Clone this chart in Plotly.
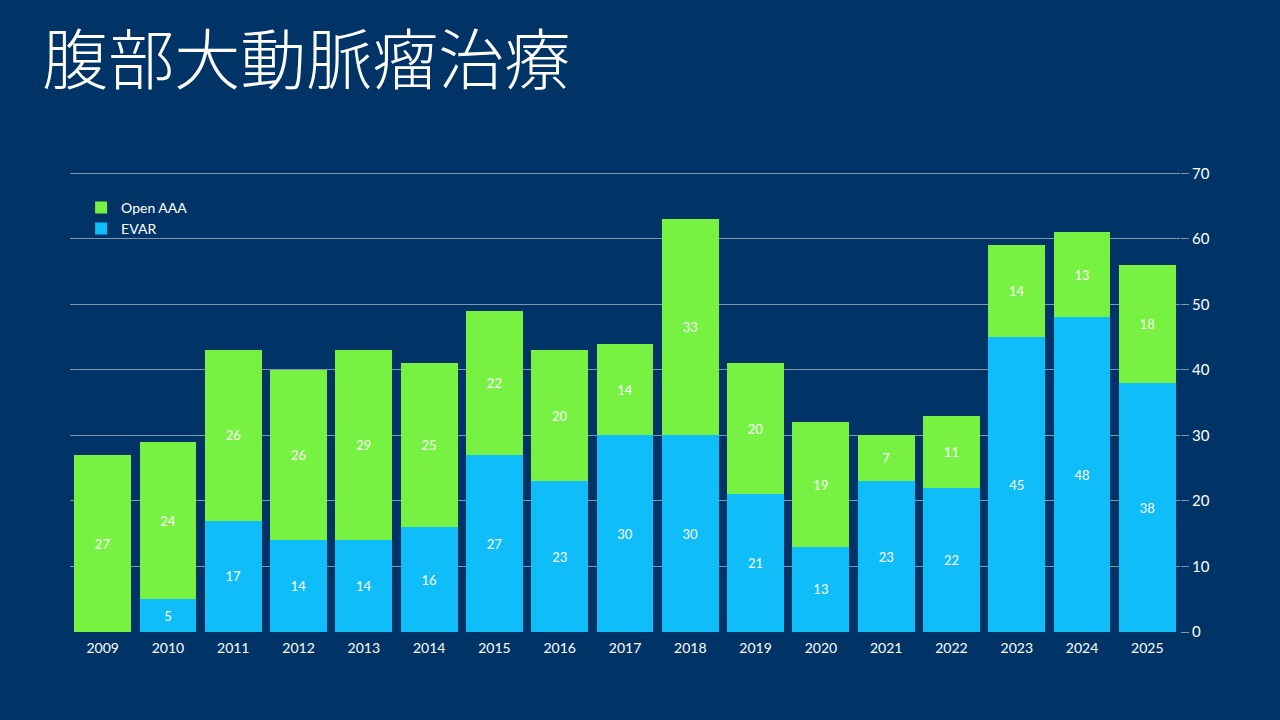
import plotly.graph_objects as go

years = ['2009', '2010', '2011', '2012', '2013', '2014', '2015', '2016', '2017',
         '2018', '2019', '2020', '2021', '2022', '2023', '2024', '2025']
evar = [0, 5, 17, 14, 14, 16, 27, 23, 30, 30, 21, 13, 23, 22, 45, 48, 38]
open_aaa = [27, 24, 26, 26, 29, 25, 22, 20, 14, 33, 20, 19, 7, 11, 14, 13, 18]

bg = '#003466'
font_main = 'Lato, Noto Sans, sans-serif'

fig = go.Figure()
fig.add_trace(go.Bar(
    x=years, y=evar, name='EVAR',
    marker=dict(color='#0fbdf9', line=dict(width=0)),
    text=[str(v) if v else '' for v in evar],
    textposition='inside', insidetextanchor='middle',
    textfont=dict(color='white', size=13, family=font_main),
))
fig.add_trace(go.Bar(
    x=years, y=open_aaa, name='Open AAA',
    marker=dict(color='#78f242', line=dict(width=0)),
    text=[str(v) for v in open_aaa],
    textposition='inside', insidetextanchor='middle',
    textfont=dict(color='white', size=13, family=font_main),
))

fig.update_layout(
    width=1280, height=720,
    paper_bgcolor=bg, plot_bgcolor=bg,
    barmode='stack', bargap=0.13,
    margin=dict(l=70, r=100, t=172, b=88),
    font=dict(family=font_main, color='white', size=14),
    title=dict(
        text='腹部大動脈瘤治療',
        font=dict(family='Noto Sans CJK JP', size=66, color='white', weight=300),
        x=0.033, xanchor='left', y=0.947, yanchor='top',
    ),
    showlegend=True,
    legend=dict(
        x=0.01, y=0.957, xanchor='left', yanchor='top',
        xref='paper', yref='paper',
        traceorder='reversed', tracegroupgap=0,
        font=dict(size=14, color='white', family=font_main),
        bgcolor='rgba(0,0,0,0)', itemwidth=30,
    ),
    xaxis=dict(
        showgrid=False, zeroline=False, showline=False,
        tickfont=dict(size=14, color='white'),
        ticks='', ticklabelstandoff=6,
    ),
    yaxis=dict(
        side='right', range=[0, 70.2], dtick=10,
        showgrid=True, gridcolor='rgba(215,218,225,0.6)', gridwidth=1,
        zeroline=False, showline=False,
        ticks='outside', ticklen=8, tickcolor='rgba(215,218,225,0.6)',
        tickfont=dict(size=15, color='white'),
    ),
)

fig.write_html('out.html', config={'displayModeBar': False},
               post_script="document.body.style.margin='0';")
